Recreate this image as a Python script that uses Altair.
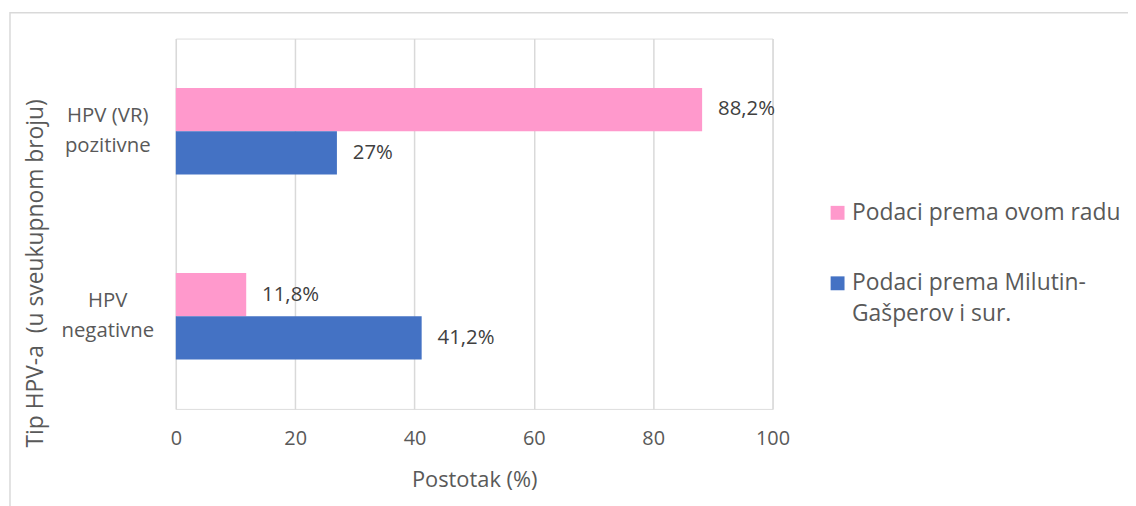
import altair as alt
import pandas as pd

categories = ["HPV (VR)\npozitivne", "HPV\nnegativne"]
series = ["Podaci prema ovom radu", "Podaci prema Milutin-\nGašperov i sur."]
values_this = [88.2, 11.8]
values_milutin = [27, 41.2]
labels_this = ["88,2%", "11,8%"]
labels_milutin = ["27%", "41,2%"]
colors = ["#FF99CC", "#4472C4"]
x_ticks = [0, 20, 40, 60, 80, 100]

rows = []
for i, c in enumerate(categories):
    rows.append({"category": c, "series": series[0], "value": values_this[i], "label": labels_this[i]})
    rows.append({"category": c, "series": series[1], "value": values_milutin[i], "label": labels_milutin[i]})
df = pd.DataFrame(rows)

FONT = "Open Sans"
GRAY = "#595959"

y_enc = alt.Y(
    "category:N",
    sort=categories,
    scale=alt.Scale(paddingInner=0.533, paddingOuter=0.2665),
    axis=alt.Axis(
        title="Tip HPV-a \u00a0(u sveukupnom broju)",
        labelExpr="split(datum.label, '\\n')",
        labelAlign="center",
        labelBaseline="middle",
        labelLineHeight=30,
        labelOffset=-15,
        labelPadding=69,
        labelFontSize=20.5,
        labelFont=FONT,
        labelColor=GRAY,
        ticks=False,
        tickSize=0,
        domain=False,
        grid=False,
        titleFontSize=23,
        titleFont=FONT,
        titleColor=GRAY,
        titleFontWeight="normal",
        titleAngle=270,
        titleX=-141,
        titleY=236,
        titleAlign="center",
        titleBaseline="middle",
    ),
)
yoff_enc = alt.YOffset("series:N", sort=series, scale=alt.Scale(paddingInner=0, paddingOuter=0))

x_enc = alt.X(
    "value:Q",
    scale=alt.Scale(domain=[0, 100]),
    axis=alt.Axis(
        values=x_ticks,
        title="Postotak (%)",
        grid=True,
        gridColor="#d9d9d9",
        gridWidth=1.5,
        domain=False,
        ticks=False,
        tickSize=0,
        labelFlush=False,
        labelPadding=20,
        labelFontSize=20,
        labelFont=FONT,
        labelColor=GRAY,
        titleFontSize=22,
        titleFont=FONT,
        titleColor=GRAY,
        titleFontWeight="normal",
        titlePadding=21,
    ),
)

bars = alt.Chart(df).mark_bar().encode(
    y=y_enc,
    yOffset=yoff_enc,
    x=x_enc,
    color=alt.Color(
        "series:N",
        sort=series,
        scale=alt.Scale(domain=series, range=colors),
        legend=alt.Legend(
            title=None,
            orient="none",
            legendX=655,
            legendY=164,
            padding=0,
            symbolType="square",
            symbolSize=196,
            symbolStrokeWidth=0,
            labelFontSize=23,
            labelFont=FONT,
            labelColor=GRAY,
            labelOffset=3,
            labelBaseline="middle",
            labelLimit=400,
            rowPadding=47,
            labelExpr="split(datum.label, '\\n')",
        ),
    ),
)

text = alt.Chart(df).mark_text(
    align="left", baseline="middle", dx=16, fontSize=20.5, font=FONT, color="#404040"
).encode(
    y=alt.Y("category:N", sort=categories),
    yOffset=alt.YOffset("series:N", sort=series),
    x=alt.X("value:Q"),
    text="label:N",
)

frame = alt.Chart(pd.DataFrame({"a": [0]})).mark_rect(
    fill=None, stroke="#d9d9d9", strokeWidth=1.5
).encode(
    x=alt.value(-167), x2=alt.value(1300), y=alt.value(-26), y2=alt.value(700)
)

chart = alt.layer(frame, bars, text).properties(
    width=601,
    height=373,
    autosize=alt.AutoSizeParams(type="none"),
    padding={"left": 169, "top": 29, "right": 358, "bottom": 96},
    background="white",
).configure_view(stroke=None).configure(
    style={"guide-label": {"lineHeight": 31}}
)

chart.save("out.html", embed_options={"renderer": "svg", "actions": False})
